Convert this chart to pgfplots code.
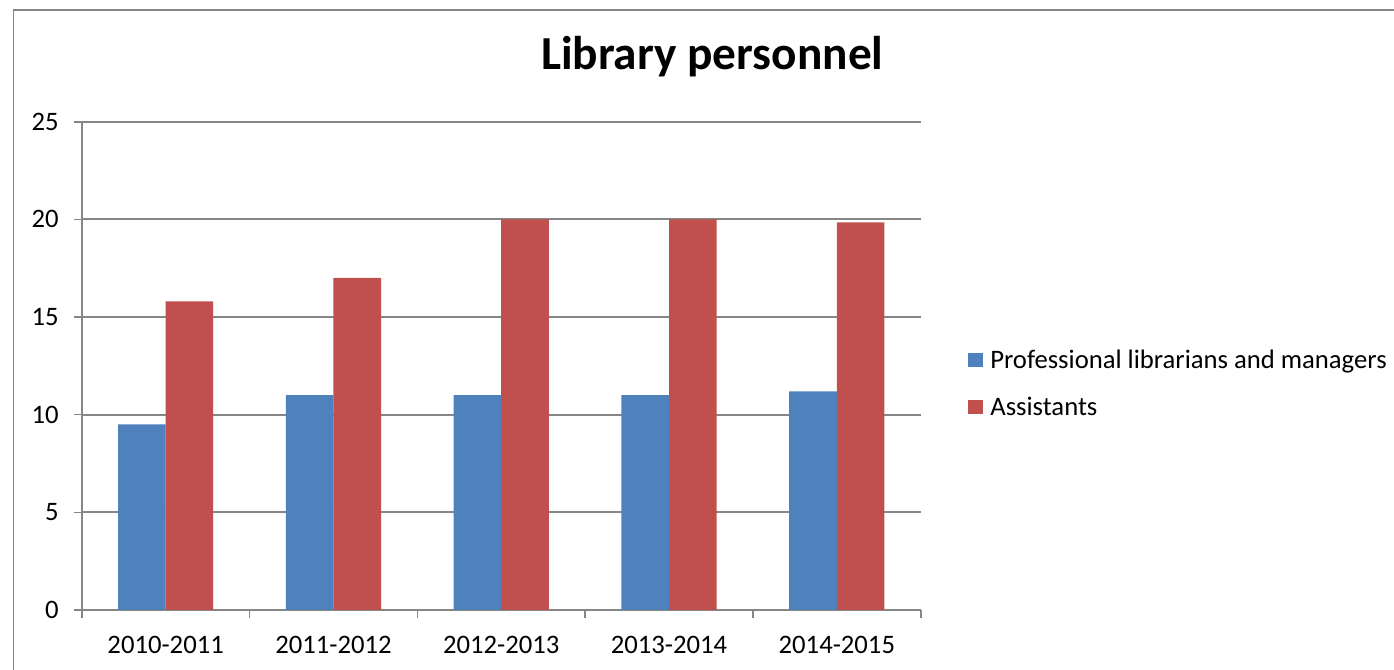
\documentclass[border=0pt]{standalone}
\usepackage{fontspec}
\setmainfont{Carlito}
\usepackage{pgfplots}
\pgfplotsset{compat=1.18}
\definecolor{blueS}{HTML}{4F81BD}
\definecolor{redS}{HTML}{C0504D}
\definecolor{gridG}{HTML}{868686}
\begin{document}
\begin{tikzpicture}
\useasboundingbox (0,0) rectangle (1045.5pt,502.5pt);
\draw[gridG, line width=1.2pt] (10pt,-10pt) -- (10pt,495pt) -- (1060pt,495pt);
\node[anchor=base, font=\fontsize{35.5}{40}\selectfont\bfseries] at (534.2pt,450.5pt) {Library personnel};
\begin{axis}[
  at={(61.3pt,45pt)}, anchor=south west,
  scale only axis,
  width=629.25pt, height=366.2pt,
  xmin=-0.5, xmax=4.5, ymin=0, ymax=25,
  ytick={0,5,10,15,20,25},
  xtick={0,1,2,3,4},
  xticklabels={2010-2011,2011-2012,2012-2013,2013-2014,2014-2015},
  minor xtick={-0.5,0.5,1.5,2.5,3.5,4.5},
  major x tick style={draw=none},
  tick align=outside,
  major tick length=5.8pt, minor tick length=5.8pt,
  tick style={gridG, line width=1.2pt},
  ymajorgrids, grid style={gridG, line width=1.4pt},
  axis line style={gridG, line width=1.4pt},
  axis x line*=bottom, axis y line*=left,
  separate axis lines,
  x axis line style={-}, y axis line style={-},
  /pgf/number format/assume math mode=true,
  tick label style={font=\fontsize{20}{24}\selectfont},
  yticklabel style={anchor=east, xshift=-8pt},
  xticklabel style={anchor=north, yshift=-10pt},
  ybar=0pt, bar width=35.7pt,
  legend style={
    at={(1.0564,0.4638)}, anchor=west, draw=none, fill=none,
    inner sep=0pt, row sep=20pt,
    font=\fontsize{20}{24}\selectfont,
    nodes={inner sep=0pt},
    /tikz/every odd column/.append style={column sep=5.5pt},
  },
  legend cell align=left,
  legend image code/.code={\fill[#1] (0pt,-5.5pt) rectangle (11pt,5.5pt);},
]
\addplot[fill=blueS, draw=none] coordinates {(0,9.5) (1,11) (2,11) (3,11) (4,11.2)};
\addplot[fill=redS, draw=none] coordinates {(0,15.8) (1,17) (2,20) (3,20) (4,19.85)};
\legend{Professional librarians and managers, Assistants}
\end{axis}
\end{tikzpicture}
\end{document}
